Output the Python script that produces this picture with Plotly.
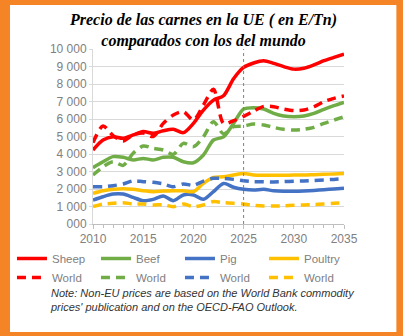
import plotly.graph_objects as go

years = [2010, 2011, 2012, 2013, 2014, 2015, 2016, 2017, 2018, 2019, 2020, 2021, 2022,
         2023, 2024, 2025, 2026, 2027, 2028, 2029, 2030, 2031, 2032, 2033, 2034, 2035]

sheep = [4230, 4800, 4990, 4900, 5090, 5280, 5180, 5330, 5410, 5220, 5750, 6510, 7080,
         7330, 8300, 8950, 9200, 9330, 9180, 8990, 8850, 8900, 9090, 9330, 9520, 9710]
sheep_world = [4650, 5600, 5050, 4750, 5100, 5200, 5000, 5750, 6230, 6420, 5940, 6800, 7700,
               5750, 5900, 6150, 6450, 6720, 6700, 6570, 6480, 6510, 6700, 6990, 7180, 7310]
beef = [3220, 3560, 3850, 3810, 3660, 3750, 3660, 3810, 3810, 3560, 3500, 3940, 4800,
        4980, 5750, 6570, 6650, 6570, 6320, 6170, 6130, 6170, 6320, 6550, 6760, 6950]
beef_world = [2800, 3270, 3560, 3350, 4040, 4460, 4320, 4230, 3980, 4610, 4420, 4990, 5850,
              5150, 5560, 5600, 5710, 5660, 5520, 5410, 5370, 5410, 5520, 5750, 5940, 6130]
pig = [1370, 1560, 1710, 1710, 1520, 1330, 1410, 1600, 1330, 1660, 1660, 1410, 1850,
       2320, 2100, 1980, 1940, 1980, 1900, 1870, 1870, 1890, 1920, 1960, 2000, 2040]
pig_world = [2130, 2130, 2190, 2290, 2470, 2420, 2380, 2290, 2130, 2290, 2210, 2450, 2610,
             2610, 2550, 2470, 2420, 2420, 2400, 2420, 2440, 2460, 2490, 2520, 2550, 2590]
poultry = [1750, 1900, 1980, 2020, 1980, 1900, 1850, 1880, 1900, 1900, 1850, 2320, 2660,
           2700, 2800, 2890, 2800, 2780, 2780, 2780, 2800, 2800, 2820, 2840, 2860, 2880]
poultry_world = [990, 1140, 1180, 1220, 1140, 1140, 1090, 1100, 990, 1140, 990, 1090, 1280,
                 1220, 1180, 1140, 1070, 1030, 1030, 1040, 1070, 1090, 1110, 1140, 1180, 1220]

y_ticks = [0, 1000, 2000, 3000, 4000, 5000, 6000, 7000, 8000, 9000, 10000]
y_tick_text = ["000", "1 000", "2 000", "3 000", "4 000", "5 000", "6 000", "7 000",
               "8 000", "9 000", "10 000"]
x_ticks = [2010, 2015, 2020, 2025, 2030, 2035]
projection_start = 2025

RED, GREEN, BLUE, GOLD = "#FF0000", "#70AD47", "#4472C4", "#FFC000"
ORANGE = "#F58426"

W, H = 403, 336
ML, MR, MT, MB = 90, 59, 49, 112
PW, PH = W - ML - MR, H - MT - MB


def px(x):
    return (x - ML) / PW


def py(y):
    return (H - MB - y) / PH


fig = go.Figure()
series = [
    ("Sheep", sheep, RED, "solid"),
    ("Beef", beef, GREEN, "solid"),
    ("Pig", pig, BLUE, "solid"),
    ("Poultry", poultry, GOLD, "solid"),
    ("World", sheep_world, RED, "9px,6px"),
    ("World", beef_world, GREEN, "9px,6px"),
    ("World", pig_world, BLUE, "9px,6px"),
    ("World", poultry_world, GOLD, "9px,6px"),
]
for name, vals, col, dash in series:
    fig.add_trace(go.Scatter(
        x=years, y=vals, name=name, mode="lines",
        line=dict(color=col, width=3.5, dash=dash, shape="spline", smoothing=0.8),
    ))

fig.update_layout(
    width=W, height=H,
    margin=dict(l=ML, r=MR, t=MT, b=MB),
    paper_bgcolor=ORANGE, plot_bgcolor="white",
    font=dict(family="Liberation Sans", color="#808080", size=11),
    xaxis=dict(
        range=[2010, 2035], tickvals=x_ticks, showgrid=False,
        showline=True, linecolor="#BFBFBF", linewidth=1,
        ticks="outside", ticklen=4, tickcolor="#BFBFBF",
        minor=dict(dtick=1, ticks="outside", ticklen=3, tickcolor="#BFBFBF"),
        tickfont=dict(size=12, color="#808080"),
        zeroline=False,
    ),
    yaxis=dict(
        range=[0, 10000], tickvals=y_ticks, ticktext=y_tick_text,
        showgrid=True, gridcolor="#D9D9D9", gridwidth=1,
        showline=True, linecolor="#D9D9D9", linewidth=1,
        ticks="outside", ticklen=3, tickcolor="#D9D9D9",
        tickfont=dict(size=12, color="#808080"),
        zeroline=False,
    ),
    legend=dict(
        orientation="h", x=px(8), y=py(244), xanchor="left", yanchor="top",
        entrywidth=39, entrywidthmode="pixels",
        font=dict(size=11.5, color="#808080"), bgcolor="rgba(0,0,0,0)",
        tracegroupgap=0, itemwidth=30,
    ),
    showlegend=True,
)

fig.add_shape(type="rect", xref="paper", yref="paper",
              x0=px(6), x1=px(397), y0=py(332), y1=py(5),
              fillcolor="white", line=dict(width=0), layer="below")
fig.add_shape(type="line", xref="x", yref="y",
              x0=projection_start, x1=projection_start, y0=0, y1=10000,
              line=dict(color="#7F7F7F", width=1, dash="3px,3px"), layer="above")

fig.add_annotation(
    text="<b><i>Precio de las carnes en la UE ( en E/Tn)<br>comparados con los del mundo</i></b>",
    xref="paper", yref="paper", x=px(201.5), y=py(9),
    xanchor="center", yanchor="top", align="center", showarrow=False,
    font=dict(family="Liberation Serif", size=16, color="#000000"),
)

fig.add_annotation(
    text="<i>Note: Non-EU prices are based on the World Bank commodity<br>"
         "prices' publication and on the OECD-FAO Outlook.</i>",
    xref="paper", yref="paper", x=px(44), y=py(285),
    xanchor="left", yanchor="top", align="left", showarrow=False,
    font=dict(family="Liberation Sans", size=11, color="#333333"),
)

fig.write_html("out.html")
